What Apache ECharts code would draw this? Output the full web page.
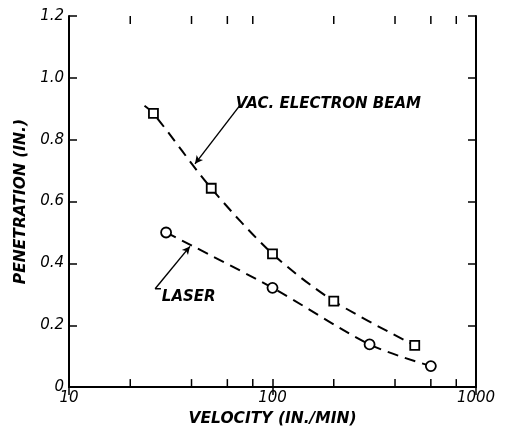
<!DOCTYPE html>
<html><head><meta charset="utf-8">
<script src="https://cdn.jsdelivr.net/npm/echarts@6/dist/echarts.min.js"></script>
<style>html,body{margin:0;padding:0;background:#fff}#c{width:511px;height:432px}</style>
</head><body><div id="c"></div>
<script>
// ---- data ----
const beamVelocity = [26, 50, 100, 200, 500];
const beamPenetration = [0.885, 0.643, 0.431, 0.278, 0.135];
const beamCurveX = [23.5, 26, 50, 100, 200, 500];
const beamCurveY = [0.91, 0.885, 0.643, 0.431, 0.278, 0.135];

const laserVelocity = [30, 100, 300, 600];
const laserPenetration = [0.50, 0.321, 0.138, 0.068];
const laserCurveX = [30, 100, 300, 600];
const laserCurveY = [0.50, 0.321, 0.138, 0.068];

const xMinorTicks = [20, 40, 60, 80, 200, 400, 600, 800];

const beamLabel = 'VAC. ELECTRON BEAM';
const laserLabel = 'LASER';
const xTitle = 'VELOCITY (IN./MIN)';
const yTitle = 'PENETRATION (IN.)';

// annotation anchors (data coordinates)
const beamLeader = [[69, 0.91], [41.6, 0.722]];
const laserLeader = [[26.5, 0.318], [39.3, 0.455]];
const laserFoot = [[26.5, 0.318], [28.3, 0.318]];
const beamTextAt = [66, 0.915];
const laserTextAt = [28.6, 0.29];

const zip = (a, b) => a.map((v, i) => [v, b[i]]);
const FONT = 'DejaVu Sans';
const chart = echarts.init(document.getElementById('c'));

const axisFont = {fontFamily: FONT, fontStyle: 'italic', fontSize: 15, color: '#000'};
const titleFont = {fontFamily: FONT, fontStyle: 'italic', fontWeight: 'bold', fontSize: 15.5, color: '#000'};

chart.setOption({
  animation: false,
  backgroundColor: '#fff',
  grid: {left: 69, right: 35, top: 16, bottom: 44},
  xAxis: [{
    type: 'log', logBase: 10, min: 10, max: 1000, position: 'bottom',
    name: xTitle, nameLocation: 'middle', nameGap: 18,
    nameTextStyle: titleFont,
    axisLine: {lineStyle: {color: '#000', width: 2}},
    axisTick: {inside: true, length: 8, lineStyle: {color: '#000', width: 1.5}},
    axisLabel: Object.assign({margin: 4, formatter: v => String(Math.round(v))}, axisFont),
    splitLine: {show: false}, minorTick: {show: false}
  }, {
    type: 'log', logBase: 10, min: 10, max: 1000, position: 'top',
    axisLine: {lineStyle: {color: '#000', width: 2}},
    axisTick: {inside: true, length: 8, lineStyle: {color: '#000', width: 1.5}},
    axisLabel: {show: false}, splitLine: {show: false}
  }],
  yAxis: [{
    type: 'value', min: 0, max: 1.2, interval: 0.2, position: 'left',
    name: yTitle, nameLocation: 'middle', nameGap: 34, nameRotate: 90,
    nameTextStyle: titleFont,
    axisLine: {show: true, lineStyle: {color: '#000', width: 2}},
    axisTick: {show: true, inside: true, length: 8, lineStyle: {color: '#000', width: 1.5}},
    axisLabel: Object.assign({margin: 5, formatter: v => v === 0 ? '0' : v.toFixed(1)}, axisFont),
    splitLine: {show: false}
  }, {
    type: 'value', min: 0, max: 1.2, interval: 0.2, position: 'right',
    axisLine: {show: true, lineStyle: {color: '#000', width: 2}},
    axisTick: {show: true, inside: true, length: 8, lineStyle: {color: '#000', width: 1.5}},
    axisLabel: {show: false}, splitLine: {show: false}
  }],
  series: [
    {
      type: 'custom', xAxisIndex: 0, yAxisIndex: 0, silent: true, clip: false,
      data: xMinorTicks.map(v => [v]),
      renderItem: (params, api) => {
        const v = api.value(0);
        const b = api.coord([v, 0]);
        const t = api.coord([v, 1.2]);
        const st = {stroke: '#000', lineWidth: 1.5};
        return {type: 'group', children: [
          {type: 'line', shape: {x1: b[0], y1: b[1], x2: b[0], y2: b[1] - 8}, style: st},
          {type: 'line', shape: {x1: t[0], y1: t[1], x2: t[0], y2: t[1] + 8}, style: st}
        ]};
      }
    },
    {
      type: 'line', data: zip(beamCurveX, beamCurveY), smooth: 0.3, showSymbol: false, symbol: 'none',
      lineStyle: {color: '#000', width: 2, type: [11, 7]}, z: 2
    },
    {
      type: 'line', data: zip(laserCurveX, laserCurveY), smooth: 0.3, showSymbol: false, symbol: 'none',
      lineStyle: {color: '#000', width: 2, type: [11, 7]}, z: 2
    },
    {
      type: 'scatter', data: zip(beamVelocity, beamPenetration), symbol: 'rect', symbolSize: 9,
      itemStyle: {color: '#fff', borderColor: '#000', borderWidth: 1.8, opacity: 1}, z: 5
    },
    {
      type: 'scatter', data: zip(laserVelocity, laserPenetration), symbol: 'circle', symbolSize: 10,
      itemStyle: {color: '#fff', borderColor: '#000', borderWidth: 1.8, opacity: 1}, z: 5
    },
    {
      type: 'line', data: beamLeader, symbol: 'none',
      lineStyle: {color: '#000', width: 1.4}, z: 4,
      markLine: {silent: true, symbol: ['none', 'arrow'], symbolSize: [6, 8], label: {show: false},
        lineStyle: {color: '#000', width: 0.01, type: 'solid'},
        data: [[{coord: beamLeader[0]}, {coord: beamLeader[1]}]]}
    },
    {
      type: 'line', data: laserLeader, symbol: 'none',
      lineStyle: {color: '#000', width: 1.4}, z: 4,
      markLine: {silent: true, symbol: ['none', 'arrow'], symbolSize: [6, 8], label: {show: false},
        lineStyle: {color: '#000', width: 0.01, type: 'solid'},
        data: [[{coord: laserLeader[0]}, {coord: laserLeader[1]}]]}
    },
    {
      type: 'line', data: laserFoot, symbol: 'none',
      lineStyle: {color: '#000', width: 1.4}, z: 4
    },
    {
      type: 'scatter', data: [beamTextAt], symbolSize: 0, z: 6, itemStyle: {opacity: 1},
      label: Object.assign({show: true, position: 'right', distance: 0, formatter: beamLabel}, titleFont, {fontSize: 15})
    },
    {
      type: 'scatter', data: [laserTextAt], symbolSize: 0, z: 6, itemStyle: {opacity: 1},
      label: Object.assign({show: true, position: 'right', distance: 0, formatter: laserLabel}, titleFont, {fontSize: 15})
    }
  ]
});
</script></body></html>
